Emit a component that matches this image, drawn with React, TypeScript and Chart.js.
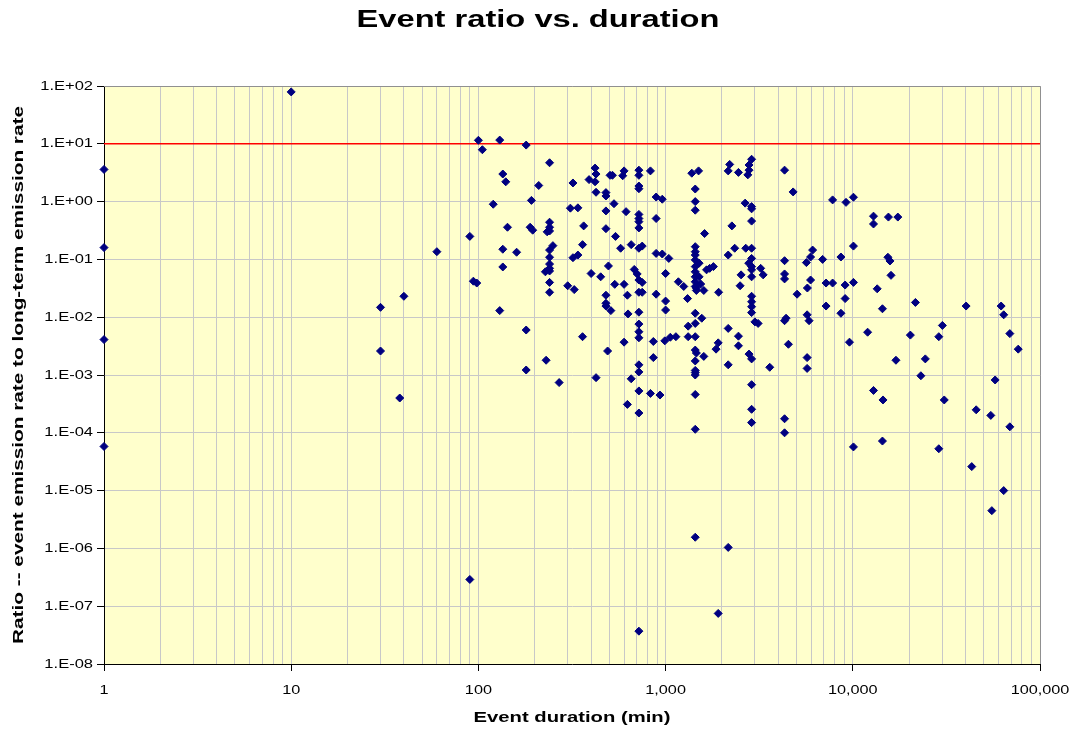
import React, { useEffect, useRef } from 'react';
import { Chart, registerables } from 'chart.js';

Chart.register(...registerables);

// ---- data (event duration in minutes, ratios observed at that duration) ----
const durations = [
  1, 10, 30, 38, 40, 60, 90, 94, 98, 100, 105, 120, 130, 135, 140, 143, 160, 180, 189, 192,
  195, 210, 228, 230, 233, 240, 250, 270, 300, 310, 320, 325, 340, 360, 365, 390, 400, 420, 425, 450,
  480, 490, 495, 505, 510, 520, 530, 535, 540, 575, 590, 600, 615, 625, 630, 655, 680, 705, 720, 750,
  830, 860, 890, 933, 960, 990, 1000, 1040, 1060, 1135, 1170, 1250, 1310, 1320, 1380, 1440, 1460, 1500, 1510, 1540,
  1560, 1600, 1615, 1655, 1720, 1800, 1860, 1910, 1920, 2160, 2200, 2260, 2340, 2450, 2500, 2530, 2660, 2680, 2750, 2780,
  2790, 2880, 3000, 3120, 3220, 3320, 3600, 4320, 4400, 4530, 4800, 5040, 5650, 5700, 5720, 5840, 5950, 6100, 6900, 7200,
  7800, 8640, 9100, 9200, 9600, 10080, 12000, 12900, 13500, 14400, 14500, 15400, 15500, 15800, 16000, 17000, 17400, 20300, 21600, 23100,
  24400, 28800, 30100, 30800, 40300, 43200, 45600, 54600, 55300, 57600, 62000, 64000, 69000, 76500,
];

const ratios: number[][] = [
  [3.6, 0.16, 0.0041, 5.8e-5], [79], [0.0148, 0.0026], [0.0004], [0.023], [0.136], [0.25, 2.9e-7], [0.042], [0.039], [11.5],
  [7.9], [0.9], [11.6, 0.013], [3.0, 0.15, 0.074], [2.2], [0.36], [0.133], [9.5, 0.006, 0.00122], [0.36], [1.05],
  [0.32], [1.9], [0.061], [0.0018], [0.3],
  [4.7, 0.44, 0.36, 0.31, 0.145, 0.109, 0.083, 0.07, 0.063, 0.04, 0.027],
  [0.173], [0.00074], [0.035], [0.77], [2.1, 0.107], [0.03], [0.78, 0.119], [0.18, 0.0046], [0.38], [2.4],
  [0.057], [3.8, 2.2], [3.0, 1.45, 0.0009], [0.05],
  [1.43, 1.25, 0.69, 0.34, 0.024, 0.0174, 0.0156],
  [0.0026], [0.077], [2.85], [0.013], [2.85], [0.92], [0.037], [0.25], [0.156], [2.8],
  [3.4, 0.037, 0.0037], [0.67], [0.024, 0.00031], [0.0114], [0.18, 0.00086], [0.067], [0.056],
  [3.5, 2.85, 1.86, 1.67, 0.6, 0.51, 0.45, 0.35, 0.156, 0.044, 0.027, 0.0122, 0.0076, 0.0056, 0.0044, 0.0015, 0.00113, 0.00053, 0.00022, 3.7e-8],
  [0.17, 0.04, 0.027],
  [3.4, 0.00048], [0.0038, 0.002], [1.2, 0.51, 0.127, 0.025], [0.00045], [1.1, 0.124], [0.0039], [0.057, 0.019, 0.0133], [0.104], [0.0045], [0.0046],
  [0.041], [0.034], [0.021], [0.007, 0.0046], [3.1],
  [1.65, 1.0, 0.71, 0.166, 0.136, 0.119, 0.098, 0.075, 0.061, 0.05, 0.041, 0.034, 0.0117, 0.0078, 0.0046, 0.0027, 0.00175, 0.0012, 0.0011, 0.001, 0.00046, 0.000115, 1.56e-6],
  [0.032, 0.029, 0.0024], [3.4], [0.086, 0.05], [0.0375],
  [0.0096], [0.029, 0.0021], [0.28], [0.066], [0.07], [0.075], [0.0028], [0.0036, 7.5e-8], [0.027], [3.4, 0.119, 0.0064, 0.0015, 1.04e-6],
  [4.4], [0.38], [0.156], [3.2, 0.0047, 0.0032], [0.035], [0.054], [0.94], [0.156], [2.9], [0.086],
  [4.3, 3.5, 0.0023],
  [5.4, 0.82, 0.75, 0.46, 0.156, 0.104, 0.075, 0.066, 0.05, 0.023, 0.0185, 0.0152, 0.012, 0.0019, 0.00068, 0.000255, 0.00015],
  [0.0083], [0.0078], [0.07], [0.054], [0.00136], [3.5, 0.095, 0.056, 0.046, 0.0087, 0.000175, 0.0001], [0.0096], [0.0034], [1.47], [0.025],
  [0.088], [0.011, 0.002, 0.0013], [0.032], [0.0087], [0.11, 0.044], [0.145], [0.1], [0.039, 0.0156],
  [1.07, 0.039], [0.11, 0.0117], [0.036, 0.021], [0.97], [0.0037], [1.19, 0.17, 0.04, 5.7e-5], [0.0055], [0.56, 0.41, 0.00054], [0.031], [0.014, 7.2e-5],
  [0.00037], [0.109], [0.54], [0.094], [0.053], [0.0018], [0.54], [0.0049], [0.018], [0.00097],
  [0.0019], [0.0046, 5.3e-5], [0.0072], [0.00037], [0.0156], [2.6e-5], [0.00025], [0.0002], [4.5e-6], [0.00082],
  [0.0156], [0.011, 1.0e-5], [0.0052, 0.000127], [0.0028],
];

const thresholdRatio = 10;

const xTickValues = [1, 10, 100, 1000, 10000, 100000];
const xTickLabels = ['1', '10', '100', '1,000', '10,000', '100,000'];
const yTickValues = [1e-8, 1e-7, 1e-6, 1e-5, 1e-4, 1e-3, 1e-2, 1e-1, 1, 10, 100];
const yTickLabels = ['1.E-08', '1.E-07', '1.E-06', '1.E-05', '1.E-04', '1.E-03', '1.E-02', '1.E-01', '1.E+00', '1.E+01', '1.E+02'];

const titleText = 'Event ratio vs. duration';
const xTitle = 'Event duration (min)';
const yTitle = 'Ratio -- event emission rate to long-term emission rate';

const FONT = '"Liberation Sans", Arial, Helvetica, sans-serif';

function drawStretched(
  ctx: CanvasRenderingContext2D, text: string, x: number, y: number,
  size: number, bold: boolean, sx: number, align: CanvasTextAlign, rot = 0,
) {
  ctx.save();
  ctx.translate(x, y);
  if (rot) ctx.rotate(rot);
  ctx.scale(sx, 1);
  ctx.font = `${bold ? 'bold ' : ''}${size}px ${FONT}`;
  ctx.textAlign = align;
  ctx.textBaseline = 'middle';
  ctx.fillStyle = '#000000';
  ctx.fillText(text, 0, 0);
  ctx.restore();
}

const decorPlugin = {
  id: 'decor',
  beforeDraw(chart: any) {
    const { ctx, chartArea: a } = chart;
    ctx.save();
    ctx.fillStyle = '#FFFFFF';
    ctx.fillRect(0, 0, chart.width, chart.height);
    ctx.fillStyle = '#FFFFCC';
    ctx.fillRect(a.left, a.top, a.right - a.left, a.bottom - a.top);
    ctx.restore();
  },
  beforeDatasetsDraw(chart: any) {
    const { ctx, chartArea: a } = chart;
    ctx.save();
    ctx.strokeStyle = '#909090';
    ctx.lineWidth = 1;
    ctx.beginPath();
    ctx.moveTo(a.left, a.top + 0.5);
    ctx.lineTo(a.right + 0.5, a.top + 0.5);
    ctx.lineTo(a.right + 0.5, a.bottom);
    ctx.stroke();
    ctx.restore();
  },
  afterDraw(chart: any) {
    const { ctx, chartArea: a } = chart;
    const xs = chart.scales.x;
    const ys = chart.scales.y;
    drawStretched(ctx, titleText, 538, 21, 23, true, 1.42, 'center');
    drawStretched(ctx, xTitle, (a.left + a.right) / 2, 718, 15, true, 1.35, 'center');
    drawStretched(ctx, yTitle, 19, (a.top + a.bottom) / 2, 15, true, 1.385, 'center', -Math.PI / 2);
    xTickValues.forEach((v, i) => {
      drawStretched(ctx, xTickLabels[i], xs.getPixelForValue(v), 690, 13, false, 1.25, 'center');
    });
    yTickValues.forEach((v, i) => {
      drawStretched(ctx, yTickLabels[i], 93, ys.getPixelForValue(v), 13, false, 1.27, 'right');
    });
  },
};

export default function App() {
  const canvasRef = useRef<HTMLCanvasElement | null>(null);

  useEffect(() => {
    const canvas = canvasRef.current;
    if (!canvas) return;

    const points: { x: number; y: number }[] = [];
    durations.forEach((d, i) => {
      (ratios[i] || []).forEach((r) => points.push({ x: d, y: r }));
    });

    const isDecade = (v: number) => Math.abs(Math.log10(v) - Math.round(Math.log10(v))) < 1e-9;

    const chart = new Chart(canvas, {
      type: 'scatter',
      data: {
        datasets: [
          {
            label: 'Events',
            data: points,
            pointStyle: 'rectRot',
            pointRadius: 4,
            pointBorderWidth: 1,
            backgroundColor: '#000080',
            borderColor: '#000080',
            showLine: false,
            clip: false,
          } as any,
          {
            label: 'Threshold',
            data: [
              { x: xTickValues[0], y: thresholdRatio },
              { x: xTickValues[xTickValues.length - 1], y: thresholdRatio },
            ],
            showLine: true,
            borderColor: '#FF0000',
            borderWidth: 1.5,
            pointRadius: 0,
            clip: false,
          } as any,
        ],
      },
      options: {
        animation: false,
        responsive: false,
        events: [],
        layout: { autoPadding: false, padding: { left: 96, right: 36, top: 86, bottom: 64 } } as any,
        plugins: { legend: { display: false }, title: { display: false }, tooltip: { enabled: false } },
        scales: {
          x: {
            type: 'logarithmic',
            min: 1,
            max: 100000,
            afterBuildTicks: (scale: any) => {
              const t: any[] = [];
              for (let e = 0; e < 5; e++) {
                for (let m = 1; m <= 9; m++) t.push({ value: m * Math.pow(10, e) });
              }
              t.push({ value: 100000 });
              scale.ticks = t;
            },
            afterFit: (scale: any) => { scale.height = 7; },
            ticks: { display: false, autoSkip: false },
            grid: {
              color: '#C8C8C8',
              lineWidth: 1,
              tickLength: 7,
              tickColor: (c: any) => (c.tick && isDecade(c.tick.value) ? '#000000' : 'rgba(0,0,0,0)'),
            },
            border: { display: true, color: '#000000', width: 1 },
          },
          y: {
            type: 'logarithmic',
            min: 1e-8,
            max: 100,
            afterBuildTicks: (scale: any) => {
              scale.ticks = yTickValues.map((v) => ({ value: v }));
            },
            afterFit: (scale: any) => { scale.width = 8; },
            ticks: { display: false, autoSkip: false },
            grid: { color: '#C8C8C8', lineWidth: 1, tickLength: 7, tickColor: '#000000' },
            border: { display: true, color: '#000000', width: 1 },
          },
        },
      } as any,
      plugins: [decorPlugin],
    });

    return () => chart.destroy();
  }, []);

  return (
    <div style={{ position: 'fixed', left: 0, top: 0, width: 1076, height: 735, background: '#fff' }}>
      <canvas ref={canvasRef} width={1076} height={735} style={{ display: 'block' }} />
    </div>
  );
}
